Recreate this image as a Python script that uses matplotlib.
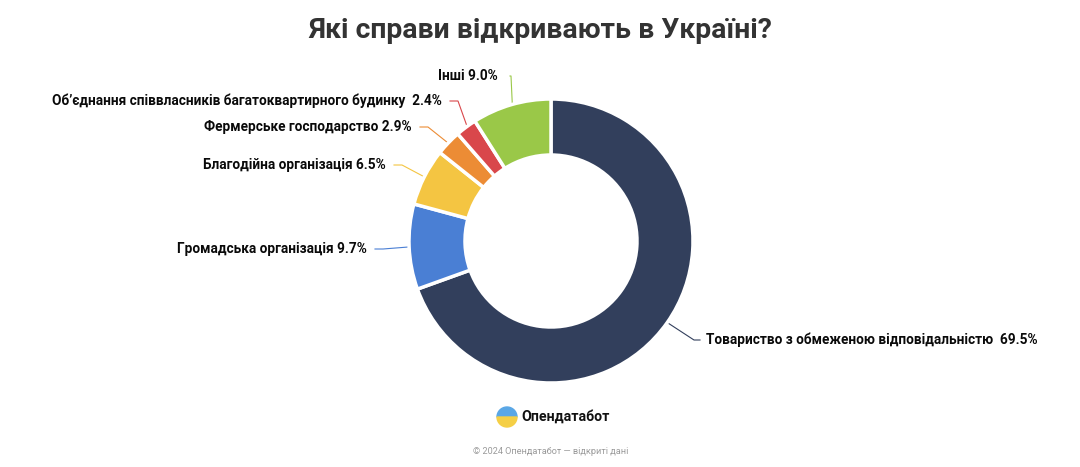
import numpy as np
import matplotlib.pyplot as plt
from matplotlib.patches import Wedge

plt.rcParams['font.family'] = ['Roboto', 'DejaVu Sans']

categories = [
    "Товариство з обмеженою відповідальністю",
    "Громадська організація",
    "Благодійна організація",
    "Фермерське господарство",
    "Об’єднання співвласників багатоквартирного будинку",
    "Інші",
]
shares = [69.5, 9.7, 6.5, 2.9, 2.4, 9.0]
colors = ["#323f5c", "#4a7fd4", "#f4c542", "#ec8c35", "#d9474b", "#9ac848"]

# label text positions in pixel coords (x, y from top), and alignment
label_pos = [(706, 340, "left"), (367, 249, "right"), (386, 165, "right"),
             (412, 127, "right"), (442, 101, "right"), (498, 76, "right")]

W, H = 1080, 467
fig = plt.figure(figsize=(10.8, 4.67), dpi=100)
ax = fig.add_axes([0, 0, 1, 1])
ax.axis('off')

cx, cy, R = 551, H - 241, 142
wedges, _ = ax.pie(shares, colors=colors, startangle=90, counterclock=False,
                   radius=R, center=(cx, cy),
                   wedgeprops=dict(width=56, edgecolor='white', linewidth=2.5))
ax.set_xlim(0, W)
ax.set_ylim(0, H)
ax.set_aspect('equal')

for i, (w, name, val, (tx, ty, ha), col) in enumerate(
        zip(wedges, categories, shares, label_pos, colors)):
    ang = np.deg2rad((w.theta1 + w.theta2) / 2)
    x0 = cx + (R - 4) * np.cos(ang)
    y0 = cy + (R - 4) * np.sin(ang)
    ty = H - ty
    if ha == "left":
        x1, x2 = tx - 12, tx - 6
        sep = "  "
    elif i == len(shares) - 1:
        x1, x2 = tx + 13, tx + 12
        sep = " "
    else:
        x1, x2 = tx + 16, tx + 8
        sep = "  " if val == 2.4 else " "
    ax.plot([x0, x1, x2], [y0, ty, ty], color=col, lw=0.8, zorder=0)
    ax.text(tx, ty, f"{name}{sep}{val:.1f}%", ha=ha, va='center',
            fontsize=9.8, fontweight='bold', color='#0a0a0a')

ax.text(540, H - 30, "Які справи відкривають в Україні?", ha='center', va='center',
        fontsize=20.4, fontweight='bold', color='#333333')

# logo
ax.add_patch(Wedge((507, H - 417), 10, 0, 180, color='#5aa7e6'))
ax.add_patch(Wedge((507, H - 417), 10, 180, 360, color='#f5cf45'))
ax.text(521, H - 417, "Опендатабот", ha='left', va='center', fontsize=10.2,
        fontweight='bold', color='#111111')
ax.text(551, H - 451, "© 2024 Опендатабот — відкриті дані", ha='center', va='center',
        fontsize=6.6, color='#9a9a9a')

fig.savefig("out.png", dpi=100)
